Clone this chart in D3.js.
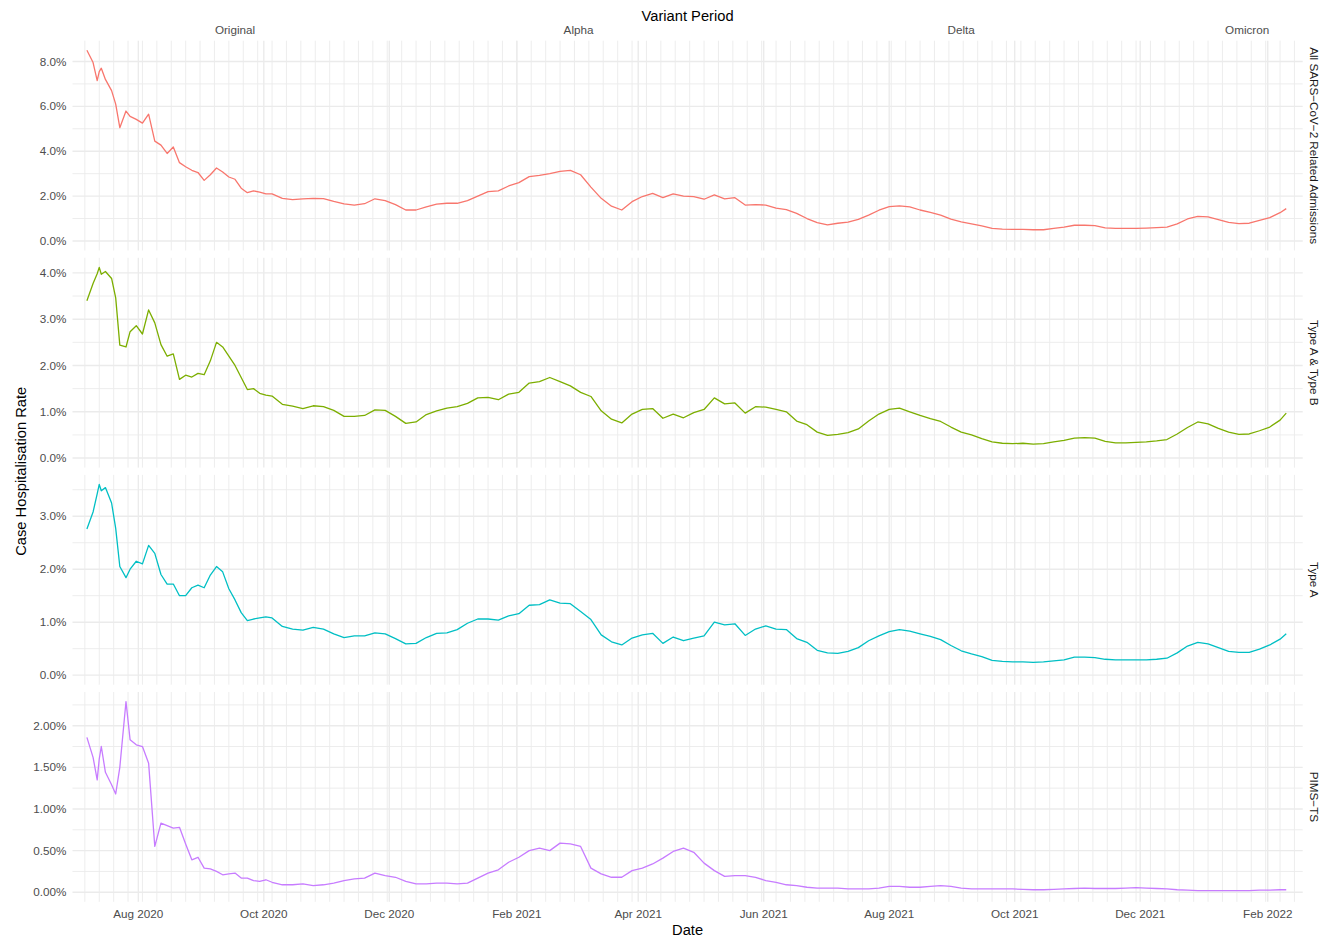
<!DOCTYPE html>
<html>
<head>
<meta charset="utf-8">
<script src="https://cdn.jsdelivr.net/npm/d3@7"></script>
<style>
  body { margin: 0; background: #fff; }
  svg text { font-family: "Liberation Sans", Arial, Helvetica, sans-serif; }
</style>
</head>
<body>
<svg id="chart" width="1321" height="938"></svg>
<script>
// sample dates (denser in summer 2020, then every 5 days)
var dates = [
  "2020-07-07","2020-07-10","2020-07-12","2020-07-13","2020-07-14","2020-07-16","2020-07-19","2020-07-21","2020-07-23","2020-07-26","2020-07-28","2020-07-31",
  "2020-08-03","2020-08-06","2020-08-09","2020-08-12","2020-08-15","2020-08-18","2020-08-21","2020-08-24","2020-08-27","2020-08-30",
  "2020-09-02","2020-09-05","2020-09-08","2020-09-11","2020-09-14","2020-09-17","2020-09-20","2020-09-23","2020-09-26","2020-09-29",
  "2020-10-02","2020-10-05",
  "2020-10-10","2020-10-15","2020-10-20","2020-10-25","2020-10-30",
  "2020-11-04","2020-11-09","2020-11-14","2020-11-19","2020-11-24","2020-11-29",
  "2020-12-04","2020-12-09","2020-12-14","2020-12-19","2020-12-24","2020-12-29",
  "2021-01-03","2021-01-08","2021-01-13","2021-01-18","2021-01-23","2021-01-28",
  "2021-02-02","2021-02-07","2021-02-12","2021-02-17","2021-02-22","2021-02-27",
  "2021-03-04","2021-03-09","2021-03-14","2021-03-19","2021-03-24","2021-03-29",
  "2021-04-03","2021-04-08","2021-04-13","2021-04-18","2021-04-23","2021-04-28",
  "2021-05-03","2021-05-08","2021-05-13","2021-05-18","2021-05-23","2021-05-28",
  "2021-06-02","2021-06-07","2021-06-12","2021-06-17","2021-06-22","2021-06-27",
  "2021-07-02","2021-07-07","2021-07-12","2021-07-17","2021-07-22","2021-07-27",
  "2021-08-01","2021-08-06","2021-08-11","2021-08-16","2021-08-21","2021-08-26","2021-08-31",
  "2021-09-05","2021-09-10","2021-09-15","2021-09-20","2021-09-25","2021-09-30",
  "2021-10-05","2021-10-10","2021-10-15","2021-10-20","2021-10-25","2021-10-30",
  "2021-11-04","2021-11-09","2021-11-14","2021-11-19","2021-11-24","2021-11-29",
  "2021-12-04","2021-12-09","2021-12-14","2021-12-19","2021-12-24","2021-12-29",
  "2022-01-03","2022-01-08","2022-01-13","2022-01-18","2022-01-23","2022-01-28",
  "2022-02-02","2022-02-07","2022-02-10"
];

// case hospitalisation rate, in %
var allAdmissions = [
  8.5,7.95,7.15,7.55,7.7,7.2,6.7,6.1,5.05,5.79,5.55,5.42,
  5.25,5.65,4.45,4.27,3.9,4.19,3.49,3.31,3.15,3.05,
  2.7,2.95,3.25,3.07,2.85,2.75,2.35,2.15,2.23,2.18,
  2.1,2.1,
  1.9,1.84,1.88,1.9,1.89,
  1.76,1.65,1.6,1.66,1.88,1.8,
  1.62,1.38,1.38,1.52,1.64,1.68,
  1.68,1.8,2.0,2.2,2.23,2.45,
  2.6,2.87,2.92,3.0,3.1,3.15,
  2.95,2.4,1.9,1.55,1.38,1.75,
  1.98,2.12,1.93,2.1,2.0,1.98,
  1.86,2.05,1.88,1.93,1.6,1.62,
  1.6,1.46,1.4,1.23,1.0,0.82,
  0.72,0.79,0.84,0.96,1.15,1.37,
  1.53,1.56,1.52,1.38,1.27,1.15,0.97,
  0.85,0.76,0.67,0.56,0.53,0.52,
  0.52,0.5,0.5,0.56,0.62,0.7,
  0.7,0.68,0.58,0.56,0.56,0.56,
  0.57,0.59,0.62,0.76,0.98,1.1,
  1.07,0.95,0.83,0.77,0.79,0.92,
  1.04,1.26,1.44
];
var typeAB = [
  3.4,3.77,3.98,4.12,3.97,4.03,3.88,3.46,2.44,2.4,2.73,2.86,
  2.68,3.2,2.92,2.45,2.2,2.25,1.7,1.79,1.75,1.83,
  1.8,2.1,2.5,2.4,2.2,2.0,1.74,1.48,1.5,1.4,
  1.36,1.34,
  1.16,1.12,1.07,1.13,1.11,
  1.03,0.9,0.9,0.92,1.04,1.03,
  0.9,0.75,0.78,0.94,1.02,1.08,
  1.11,1.18,1.3,1.31,1.26,1.38,
  1.42,1.62,1.65,1.74,1.65,1.56,
  1.42,1.33,1.02,0.84,0.76,0.95,
  1.05,1.07,0.86,0.95,0.87,0.98,
  1.05,1.3,1.17,1.19,0.97,1.11,
  1.1,1.05,1.0,0.8,0.72,0.56,
  0.49,0.51,0.55,0.63,0.8,0.95,
  1.05,1.08,1.0,0.92,0.85,0.79,0.67,
  0.56,0.5,0.42,0.35,0.32,0.31,
  0.32,0.3,0.31,0.35,0.38,0.43,
  0.44,0.43,0.36,0.33,0.33,0.34,
  0.35,0.37,0.4,0.52,0.66,0.78,
  0.74,0.64,0.56,0.51,0.52,0.59,
  0.67,0.82,0.97
];
var typeA = [
  2.76,3.08,3.42,3.6,3.48,3.54,3.25,2.77,2.05,1.84,2.0,2.15,
  2.1,2.45,2.3,1.9,1.72,1.72,1.5,1.5,1.65,1.7,
  1.65,1.89,2.05,1.95,1.63,1.42,1.18,1.03,1.06,1.08,
  1.1,1.08,
  0.92,0.87,0.85,0.9,0.87,
  0.78,0.71,0.74,0.74,0.8,0.78,
  0.69,0.59,0.6,0.71,0.79,0.8,
  0.86,0.98,1.06,1.06,1.04,1.12,
  1.16,1.32,1.33,1.42,1.36,1.35,
  1.2,1.05,0.76,0.63,0.57,0.7,
  0.76,0.79,0.6,0.72,0.65,0.7,
  0.74,1.0,0.95,0.97,0.75,0.87,
  0.93,0.87,0.86,0.69,0.62,0.47,
  0.42,0.41,0.45,0.52,0.65,0.74,
  0.82,0.86,0.83,0.78,0.73,0.67,0.56,
  0.46,0.4,0.35,0.28,0.26,0.25,
  0.25,0.24,0.25,0.27,0.29,0.34,
  0.34,0.33,0.3,0.29,0.29,0.29,
  0.29,0.3,0.32,0.42,0.55,0.62,
  0.59,0.52,0.45,0.43,0.43,0.49,
  0.57,0.68,0.78
];
var pimsTs = [
  1.86,1.62,1.35,1.6,1.75,1.44,1.29,1.18,1.5,2.29,1.83,1.77,
  1.75,1.55,0.55,0.83,0.8,0.77,0.78,0.58,0.39,0.42,
  0.29,0.28,0.25,0.21,0.22,0.23,0.17,0.17,0.14,0.13,
  0.15,0.12,
  0.09,0.09,0.1,0.08,0.09,
  0.11,0.14,0.16,0.17,0.23,0.2,
  0.18,0.13,0.1,0.1,0.11,0.11,
  0.1,0.11,0.17,0.23,0.27,0.36,
  0.42,0.5,0.53,0.5,0.59,0.58,
  0.55,0.29,0.22,0.18,0.18,0.26,
  0.29,0.34,0.41,0.49,0.53,0.48,
  0.35,0.26,0.19,0.2,0.2,0.18,
  0.14,0.12,0.09,0.08,0.06,0.05,
  0.05,0.05,0.04,0.04,0.04,0.05,
  0.07,0.07,0.06,0.06,0.07,0.08,0.07,
  0.05,0.04,0.04,0.04,0.04,0.04,
  0.035,0.03,0.03,0.035,0.04,0.045,
  0.05,0.045,0.045,0.045,0.05,0.055,
  0.05,0.045,0.04,0.03,0.025,0.02,
  0.02,0.02,0.02,0.02,0.02,0.025,
  0.025,0.03,0.03
];

var facetLabels = ["All SARS\u2212CoV\u22122 Related Admissions", "Type A & Type B", "Type A", "PIMS\u2212TS"];
var facetColors = ["#F8766D", "#7CAE00", "#00BFC4", "#C77CFF"];
var tickDecimals = [1, 1, 1, 2];
var variantNames = ["Original", "Alpha", "Delta", "Omicron"];
var variantDates = ["2020-09-17", "2021-03-03", "2021-09-05", "2022-01-22"];
var dateLimits = ["2020-06-30", "2022-02-18"];

var series = [allAdmissions, typeAB, typeA, pimsTs];

// panel geometry (note: "top" is taken by window.top)
var panelLeft = 72.5, panelRight = 1302.7, panelTop = 40.7, panelH = 209.8, gap = 7.3;
var gridCol = "#EBEBEB", axisGrey = "#4D4D4D";

var parse = d3.utcParse("%Y-%m-%d");
var days = dates.map(parse);
var svg = d3.select("#chart");
svg.append("rect").attr("width", 1321).attr("height", 938).attr("fill", "#fff");

var x = d3.scaleUtc().domain(dateLimits.map(parse)).range([panelLeft, panelRight]);
var weeks = d3.utcMonday.range(x.domain()[0], x.domain()[1]);
var months = d3.utcMonth.range(x.domain()[0], x.domain()[1])
  .filter(function(d) { return d.getUTCMonth() % 2 === 1; });

series.forEach(function(vals, i) {
  var y0 = panelTop + i * (panelH + gap);
  var hi = d3.max(vals), pad = hi * 0.05;
  var y = d3.scaleLinear().domain([-pad, hi + pad]).range([y0 + panelH, y0]);
  var ticks = y.ticks(5);
  var step = ticks[1] - ticks[0];
  var minor = [];
  for (var v = ticks[0] - step / 2; v <= y.domain()[1]; v += step) {
    if (v >= y.domain()[0]) minor.push(v);
  }
  var g = svg.append("g");

  g.selectAll(".hmin").data(minor).enter().append("line")
    .attr("x1", panelLeft).attr("x2", panelRight)
    .attr("y1", y).attr("y2", y)
    .attr("stroke", gridCol).attr("stroke-width", 0.9);
  g.selectAll(".vmin").data(weeks).enter().append("line")
    .attr("x1", x).attr("x2", x)
    .attr("y1", y0).attr("y2", y0 + panelH)
    .attr("stroke", gridCol).attr("stroke-width", 0.9);
  g.selectAll(".hmaj").data(ticks).enter().append("line")
    .attr("x1", panelLeft).attr("x2", panelRight)
    .attr("y1", y).attr("y2", y)
    .attr("stroke", gridCol).attr("stroke-width", 1.4);
  g.selectAll(".vmaj").data(months).enter().append("line")
    .attr("x1", x).attr("x2", x)
    .attr("y1", y0).attr("y2", y0 + panelH)
    .attr("stroke", gridCol).attr("stroke-width", 1.4);

  var fmt = d3.format("." + tickDecimals[i] + "f");
  g.selectAll(".ylab").data(ticks).enter().append("text")
    .attr("x", 66.5).attr("y", y).attr("dy", "0.35em")
    .attr("text-anchor", "end").attr("font-size", "11.7px")
    .attr("fill", axisGrey)
    .text(function(d) { return fmt(d) + "%"; });

  var line = d3.line()
    .x(function(d, j) { return x(days[j]); })
    .y(function(d) { return y(d); });
  g.append("path").datum(vals)
    .attr("d", line)
    .attr("fill", "none")
    .attr("stroke", facetColors[i])
    .attr("stroke-width", 1.3)
    .attr("stroke-linejoin", "round");

  g.append("text")
    .attr("transform", "translate(1309.5," + (y0 + panelH / 2) + ") rotate(90)")
    .attr("text-anchor", "middle").attr("font-size", "11.7px")
    .attr("fill", "#1A1A1A")
    .text(facetLabels[i]);
});

// bottom date axis
var panelBottom = panelTop + 4 * panelH + 3 * gap;
svg.selectAll(".xlab").data(months).enter().append("text")
  .attr("x", x).attr("y", panelBottom + 15.7)
  .attr("text-anchor", "middle").attr("font-size", "11.7px")
  .attr("fill", axisGrey)
  .text(d3.utcFormat("%b %Y"));

// top variant axis
svg.selectAll(".vlab").data(variantNames).enter().append("text")
  .attr("x", function(d, i) { return x(parse(variantDates[i])); })
  .attr("y", 34)
  .attr("text-anchor", "middle").attr("font-size", "11.7px")
  .attr("fill", axisGrey)
  .text(function(d) { return d; });

var mid = (panelLeft + panelRight) / 2;
svg.append("text").attr("x", mid).attr("y", 20.5)
  .attr("text-anchor", "middle").attr("font-size", "14.7px")
  .text("Variant Period");
svg.append("text").attr("x", mid).attr("y", 935)
  .attr("text-anchor", "middle").attr("font-size", "14.7px")
  .text("Date");
svg.append("text")
  .attr("transform", "translate(25.5," + ((panelTop + panelBottom) / 2) + ") rotate(-90)")
  .attr("text-anchor", "middle").attr("font-size", "14.7px")
  .text("Case Hospitalisation Rate");
</script>
</body>
</html>
